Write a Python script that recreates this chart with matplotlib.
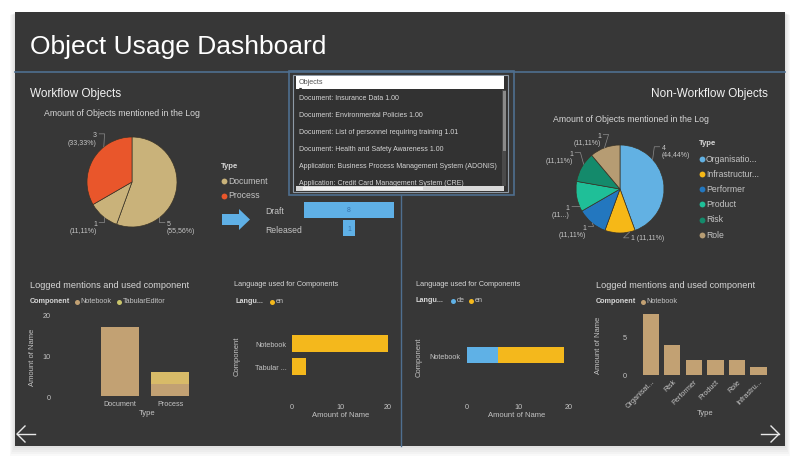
import numpy as np
import matplotlib

matplotlib.use("Agg")

import matplotlib.pyplot as plt
from matplotlib.patches import Rectangle, FancyArrow

plt.rcParams["font.family"] = ["Liberation Sans", "DejaVu Sans"]

# ---- data -------------------------------------------------------------
wf_pie_types = ["Document", "Document", "Process"]
wf_pie_values = [5, 1, 3]
wf_legend = ["Document", "Process"]

funnel_stages = ["Draft", "Released"]
funnel_values = [8, 1]

object_items = [
    "Document: Insurance Data 1.00",
    "Document: Environmental Policies 1.00",
    "Document: List of personnel requiring training 1.01",
    "Document: Health and Safety Awareness 1.00",
    "Application: Business Process Management System (ADONIS)",
    "Application: Credit Card Management System (CRE)",
]

nwf_types = ["Organisation", "Infrastructure", "Performer", "Product", "Risk", "Role"]
nwf_legend = ["Organisatio...", "Infrastructur...", "Performer", "Product", "Risk", "Role"]
nwf_values = [4, 1, 1, 1, 1, 1]

logged_wf_types = ["Document", "Process"]
logged_wf_notebook = [17, 3]
logged_wf_tabular = [0, 3]

lang_wf_components = ["Notebook", "Tabular ..."]
lang_wf_en = [20, 3]

lang_nwf_components = ["Notebook"]
lang_nwf_de = [6]
lang_nwf_en = [13]

logged_nwf_types = ["Organisat...", "Risk", "Performer", "Product", "Role", "Infrastru..."]
logged_nwf_notebook = [8, 4, 2, 2, 2, 1]

# ---- style ------------------------------------------------------------
W, H = 801, 464
PANEL = "#373737"
DIVIDER = "#4f6f8f"
TITLE = "#f2f2f2"
TEXT = "#d6d6d6"
TICK = "#c4c4c4"
LEADER = "#8c8c8c"

TAN = "#c9b27a"
ORANGE = "#e9562b"
NOTEBOOK = "#c2a173"
TABULAR = "#d8bb68"
EN = "#f4b81c"
DE = "#5fb1e6"
FUNNEL = "#5fb0e6"
NWF_COLORS = ["#62b1e3", "#f6b817", "#2377bf", "#1fbf98", "#148a6b", "#b69c73"]

fig = plt.figure(figsize=(W / 100, H / 100), dpi=100)
fig.patch.set_facecolor("white")

bg = fig.add_axes([0, 0, 1, 1])
bg.set_xlim(0, W)
bg.set_ylim(H, 0)
bg.axis("off")


def px_axes(x0, y0, x1, y1):
    ax = fig.add_axes([x0 / W, 1 - y1 / H, (x1 - x0) / W, (y1 - y0) / H])
    ax.set_facecolor("none")
    for spine in ax.spines.values():
        spine.set_visible(False)
    ax.tick_params(colors=TICK, labelsize=5.2, length=0)
    return ax


# panel with soft shadow
for i in range(6):
    bg.add_patch(Rectangle((15 - i, 13 + i * 0.6), 770 + 2 * i, 434 + i * 1.3,
                           facecolor="black", alpha=0.025, edgecolor="none"))
bg.add_patch(Rectangle((15, 13), 770, 434, facecolor=PANEL, edgecolor="none"))

# divider lines
bg.plot([15, 785], [73, 73], color=DIVIDER, lw=1.2)
bg.plot([401, 401], [196, 447], color=DIVIDER, lw=1.0)

# headings
bg.text(30, 47, "Object Usage Dashboard", color="white", fontsize=19, va="center")
bg.text(30, 94, "Workflow Objects", color=TITLE, fontsize=8.5, va="center")
bg.text(768, 94, "Non-Workflow Objects", color=TITLE, fontsize=8.5, va="center", ha="right")
bg.text(44, 114, "Amount of Objects mentioned in the Log", color=TEXT, fontsize=6.3, va="center")
bg.text(553, 120, "Amount of Objects mentioned in the Log", color=TEXT, fontsize=6.3, va="center")
bg.text(30, 286, "Logged mentions and used component", color=TEXT, fontsize=6.6, va="center")
bg.text(596, 286, "Logged mentions and used component", color=TEXT, fontsize=6.6, va="center")
bg.text(234, 285, "Language used for Components", color=TEXT, fontsize=5.3, va="center")
bg.text(416, 285, "Language used for Components", color=TEXT, fontsize=5.3, va="center")


def legend_row(x, y, title, names, colors, gap):
    bg.text(x, y, title, color=TEXT, fontsize=5.2, fontweight="bold", va="center")
    for name, color, dx in zip(names, colors, gap):
        bg.plot(x + dx, y + 0.5, "o", color=color, ms=3.6, mec="none")
        bg.text(x + dx + 3.5, y, name, color=TICK, fontsize=5.2, va="center")


def legend_col(x, y0, title, names, colors, step):
    bg.text(x - 2, y0, title, color=TEXT, fontsize=5.6, fontweight="bold", va="center")
    for i, (name, color) in enumerate(zip(names, colors)):
        yy = y0 + (i + 1) * step
        bg.plot(x + 1, yy + 0.5, "o", color=color, ms=4.2, mec="none")
        bg.text(x + 5, yy, name, color=TICK, fontsize=6.2, va="center")


def draw_pie(box, values, colors, label_pos, inline=(), truncated=()):
    ax = px_axes(*box)
    wedges, _ = ax.pie(values, colors=colors, startangle=90, counterclock=False,
                       wedgeprops=dict(edgecolor="#3a3428", linewidth=0.5))
    ax.set_xlim(-1, 1)
    ax.set_ylim(-1, 1)
    total = sum(values)
    for i, (w, v, (lx, ly)) in enumerate(zip(wedges, values, label_pos)):
        pct = f"{100 * v / total:.2f}".replace(".", ",")
        if i in truncated:
            txt = f"{v}\n({pct[:2]}...)"
        elif i in inline:
            txt = f"{v} ({pct}%)"
        else:
            txt = f"{v}\n({pct}%)"
        right = lx > 0
        ax.text(lx, ly, txt, color=TICK, fontsize=5.0, va="center",
                ha="left" if right else "right",
                multialignment="left" if right else "right",
                linespacing=1.1, clip_on=False)
        # leader line from wedge edge toward the label
        mid = (w.theta1 + w.theta2) / 2
        half = (w.theta2 - w.theta1) / 2
        ang = np.degrees(np.arctan2(ly, lx))
        diff = ((ang - mid + 180) % 360) - 180
        diff = np.clip(diff, -half * 0.8, half * 0.8)
        a = np.radians(mid + diff)
        ax_, ay_ = np.cos(a), np.sin(a)
        ly_line = ly + (0.0 if i in inline else 0.1)
        end_x = lx - 0.05 if right else lx + 0.05
        knee_x = end_x - 0.12 if right else end_x + 0.12
        ax.plot([ax_, knee_x, end_x], [ay_, ly_line, ly_line], color=LEADER,
                lw=0.5, clip_on=False)
    return ax


# ---- workflow pie ------------------------------------------------------
wf_colors = [TAN if t == "Document" else ORANGE for t in wf_pie_types]
draw_pie((87, 138, 177, 228), wf_pie_values, wf_colors,
         [(0.78, -1.0), (-0.78, -1.0), (-0.78, 0.97)])
legend_col(223, 167, "Type", wf_legend, [TAN, ORANGE], 14.5)

# ---- objects list box --------------------------------------------------
bg.add_patch(Rectangle((289, 72), 225, 124, facecolor="none", edgecolor=DIVIDER, lw=1.2))
bg.add_patch(Rectangle((293, 76), 215, 117, facecolor="#323232", edgecolor="#8e9aa6", lw=0.8))
bg.add_patch(Rectangle((296, 77), 208, 13, facecolor="white", edgecolor="none"))
bg.text(299, 82.5, "Objects", color="#555555", fontsize=5.2, va="center")
bg.text(299, 88.5, "\u25BE", color="#333333", fontsize=4.5, va="center")
for i, item in enumerate(object_items):
    bg.text(299, 98 + i * 17.1, item, color=TEXT, fontsize=5.0, va="center",
            family=["Liberation Sans Narrow", "Liberation Sans"])
bg.add_patch(Rectangle((296, 187), 208, 5, facecolor="#d9d9d9", edgecolor="none", zorder=3))
bg.add_patch(Rectangle((303, 187.8), 120, 3.4, facecolor="#f2f2f2", edgecolor="none", zorder=3))
bg.add_patch(Rectangle((502, 91), 4, 96, facecolor="#4a4a4a", edgecolor="none", zorder=3))
bg.add_patch(Rectangle((502.5, 92), 3, 60, facecolor="#8a8a8a", edgecolor="none", zorder=3))

# ---- arrow + funnel ----------------------------------------------------
bg.add_patch(FancyArrow(222, 220.5, 17, 0, width=11, head_width=21, head_length=11,
                        length_includes_head=False, color=FUNNEL, ec="none"))

fax = px_axes(300, 198, 398, 242)
fy = np.arange(len(funnel_stages))
fax.barh(fy, funnel_values, left=[-v / 2 for v in funnel_values], height=0.86, color=FUNNEL)
fax.set_xlim(-4.36, 4.36)
fax.set_ylim(1.68, -0.7)
fax.set_xticks([])
fax.set_yticks(fy, funnel_stages)
fax.tick_params(axis="y", pad=25, labelsize=6.2)
for lab in fax.get_yticklabels():
    lab.set_ha("left")
for y, v in zip(fy, funnel_values):
    fax.text(0, y, str(v), color="#3572ad", fontsize=5, ha="center", va="center")

# ---- non-workflow pie --------------------------------------------------
draw_pie((576, 146, 664, 234), nwf_values, NWF_COLORS,
         [(0.95, 0.86), (0.25, -1.11), (-0.77, -0.95), (-1.14, -0.5),
          (-1.07, 0.73), (-0.43, 1.14)], inline=(1,), truncated=(3,))
legend_col(701, 144, "Type", nwf_legend, NWF_COLORS, 15.2)

# ---- logged mentions (workflow) ---------------------------------------
legend_row(30, 302, "Component", ["Notebook", "TabularEditor"], [NOTEBOOK, "#c9c56c"], [47, 89])
ax1 = px_axes(55, 316, 195, 397)
x1 = np.arange(len(logged_wf_types))
ax1.bar(x1, logged_wf_notebook, width=0.77, color=NOTEBOOK)
ax1.bar(x1, logged_wf_tabular, width=0.77, bottom=logged_wf_notebook, color=TABULAR)
ax1.set_xlim(-1.3, 1.5)
ax1.set_ylim(0, 20)
ax1.set_yticks([0, 10, 20])
ax1.set_xticks(x1, logged_wf_types)
ax1.tick_params(axis="y", pad=3)
ax1.tick_params(axis="x", pad=3)
bg.text(33, 357, "Amount of Name", color=TICK, fontsize=5.5, rotation=90, ha="center", va="center")
bg.text(147, 414, "Type", color=TICK, fontsize=5.5, ha="center", va="center")

# ---- language (workflow) ----------------------------------------------
legend_row(235, 302, "Langu...", ["en"], [EN], [37])
ax2 = px_axes(292, 310, 400, 398)
y2 = np.arange(len(lang_wf_components))
ax2.barh(y2, lang_wf_en, height=0.74, color=EN)
ax2.set_xlim(0, 108 / 4.8)
ax2.set_ylim(2.33, -1.5)
ax2.set_xticks([0, 10, 20])
ax2.set_yticks(y2, lang_wf_components)
ax2.tick_params(axis="y", pad=4)
ax2.tick_params(axis="x", pad=4)
bg.text(237, 356, "Component", color=TICK, fontsize=5.5, rotation=90, ha="center", va="center")
bg.text(341, 416, "Amount of Name", color=TICK, fontsize=5.5, ha="center", va="center")

# ---- language (non-workflow) ------------------------------------------
legend_row(416, 301, "Langu...", ["de", "en"], [DE, EN], [37, 55])
ax3 = px_axes(467, 310, 578, 398)
y3 = np.arange(len(lang_nwf_components))
ax3.barh(y3, lang_nwf_de, height=0.6, color=DE)
ax3.barh(y3, lang_nwf_en, height=0.6, left=lang_nwf_de, color=EN)
ax3.set_xlim(0, 111 / 5.1)
ax3.set_ylim(1.57, -1.72)
ax3.set_xticks([0, 10, 20])
ax3.set_yticks(y3, lang_nwf_components)
ax3.tick_params(axis="y", pad=4.5)
ax3.tick_params(axis="x", pad=4)
bg.text(419, 357, "Component", color=TICK, fontsize=5.5, rotation=90, ha="center", va="center")
bg.text(517, 416, "Amount of Name", color=TICK, fontsize=5.5, ha="center", va="center")

# ---- logged mentions (non-workflow) -----------------------------------
legend_row(596, 302, "Component", ["Notebook"], [NOTEBOOK], [47])
ax4 = px_axes(632, 312, 772, 376)
x4 = np.arange(len(logged_nwf_types))
ax4.bar(x4, logged_nwf_notebook, width=0.75, color=NOTEBOOK)
ax4.set_xlim(-0.88, 5.63)
ax4.set_ylim(0, 64 / 7.6)
ax4.set_yticks([0, 5])
ax4.set_xticks(x4, logged_nwf_types, rotation=45, ha="right", rotation_mode="anchor")
ax4.tick_params(axis="y", pad=4)
ax4.tick_params(axis="x", pad=2)
bg.text(599, 345, "Amount of Name", color=TICK, fontsize=5.5, rotation=90, ha="center", va="center")
bg.text(705, 414, "Type", color=TICK, fontsize=5.5, ha="center", va="center")

# ---- navigation arrows -------------------------------------------------
for x0, sgn in [(17, 1), (779, -1)]:
    tip = x0
    bg.plot([tip, tip + sgn * 18], [435, 435], color="#e8e8e8", lw=1.0)
    bg.plot([tip + sgn * 8, tip, tip + sgn * 8], [427, 435, 443], color="#e8e8e8", lw=1.0)

fig.savefig("out.png", dpi=100, facecolor=fig.get_facecolor())
